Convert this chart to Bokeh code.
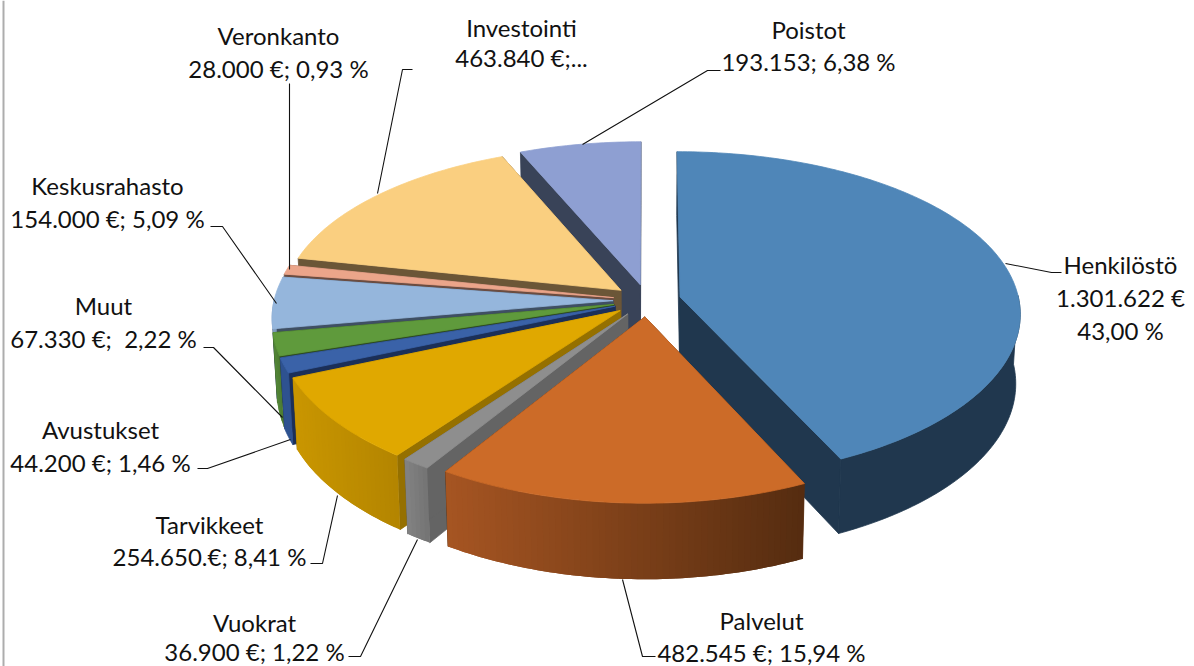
import numpy as np
from bokeh.plotting import figure
from bokeh.models import ColumnDataSource, Range1d, GlobalInlineStyleSheet
from bokeh.core.properties import value
from bokeh.embed import file_html
from bokeh.resources import INLINE

# ---------- data ----------
categories = ["Henkilöstö", "Palvelut", "Vuokrat", "Tarvikkeet", "Avustukset",
              "Muut", "Keskusrahasto", "Veronkanto", "Investointi", "Poistot"]
amounts = [1301622, 482545, 36900, 254650, 44200, 67330, 154000, 28000, 463840, 193153]
value_labels = [["1.301.622 €", "43,00 %"], ["482.545 €; 15,94 %"], ["36.900 €; 1,22 %"],
                ["254.650.€; 8,41 %"], ["44.200 €; 1,46 %"], ["67.330 €;\u00a0 2,22 %"],
                ["154.000 €; 5,09 %"], ["28.000 €; 0,93 %"], ["463.840 €;..."],
                ["193.153; 6,38 %"]]

# ---------- styles ----------
top_colors = ["#4F86B8", "#CC6B28", "#8E8E8E", "#E0A800", "#3A62A8",
              "#5F9A3C", "#95B6DC", "#EBA58A", "#FACF80", "#8E9FD2"]
face_colors = ["#20374E", "#5A2F10", "#646464", "#957000", "#1B2F58",
               "#2F4D1E", "#3F4F63", "#6B4C40", "#6B5637", "#394358"]
wall_from = ["#20374E", "#A65522", "#828282", "#C99600", "#2E5290",
             "#55893A", "#7F9CC0", "#C98C75", "#D0AC6A", "#76859F"]
wall_to = ["#20374E", "#552C10", "#747474", "#B48500", "#2E5290",
           "#4B7A30", "#7F9CC0", "#C98C75", "#D0AC6A", "#76859F"]

# ---------- layout ----------
CX, CY = 646.5, 300.0      # pie centre on the page
R, R_Y = 339.0, 162.0
PERSP_X, PERSP_Y = 0.097, 0.11
DEPTH, SHRINK = 69.0, 0.988
EXPLODE = 0.1
FONT_PX = "24px"

label_layout = {   # centre x, line y's
    "Henkilöstö": (1120, [264, 297, 330]),
    "Palvelut": (761, [620, 652]),
    "Vuokrat": (254, [622, 651]),
    "Tarvikkeet": (209, [524, 556]),
    "Avustukset": (100, [429, 462]),
    "Muut": (103, [305, 338]),
    "Keskusrahasto": (107, [185, 218]),
    "Veronkanto": (278, [35, 68]),
    "Investointi": (521, [27, 57]),
    "Poistot": (808, [29, 61]),
}
leaders = [
    ([1005, 1051, 1061], [263, 272, 272]),
    ([622, 642, 655], [579, 656, 656]),
    ([417, 360, 348], [539, 656, 656]),
    ([337, 322, 310], [495, 563, 563]),
    ([290, 207, 197], [439, 468, 468]),
    ([282, 213, 203], [417, 347, 347]),
    ([276, 222, 210], [303, 226, 226]),
    ([289, 289], [269, 83]),
    ([377, 402, 412], [193, 69, 69]),
    ([582, 707, 720], [144, 70, 70]),
]


def project(u, v, bottom=False):
    sx = 1.0 / (1.0 + PERSP_X * v)
    sy = 1.0 / (1.0 + PERSP_Y * v)
    x = R * u * sx
    y = -R_Y * v * sy
    if bottom:
        return CX + x * SHRINK, CY + y * SHRINK + DEPTH * sy
    return CX + x, CY + y


def mix(a, b, t):
    ca = [int(a[i:i + 2], 16) for i in (1, 3, 5)]
    cb = [int(b[i:i + 2], 16) for i in (1, 3, 5)]
    return "#%02x%02x%02x" % tuple(int(round(p + (q - p) * t)) for p, q in zip(ca, cb))


shares = np.array(amounts, dtype=float) / sum(amounts)
ends = np.cumsum(shares) * 2 * np.pi
starts = ends - shares * 2 * np.pi

polys = {"xs": [], "ys": [], "c": [], "la": []}


def add(xs, ys, c, la=1.0):
    polys["xs"].append(list(map(float, xs)))
    polys["ys"].append(list(map(float, ys)))
    polys["c"].append(c)
    polys["la"].append(la)


# paint from back to front
for i in [0, 9, 8, 7, 6, 5, 4, 3, 2, 1]:
    a0, a1 = starts[i], ends[i]
    mid = (a0 + a1) / 2
    du, dv = EXPLODE * np.sin(mid), EXPLODE * np.cos(mid)
    th = np.linspace(a0, a1, max(6, int((a1 - a0) * 60)))
    u = du + np.sin(th)
    v = dv + np.cos(th)
    tx, ty = project(u, v)
    bx, by = project(u, v, True)
    ax, ay = project(du, dv)
    abx, aby = project(du, dv, True)
    # radial faces
    add([ax, tx[0], bx[0], abx], [ay, ty[0], by[0], aby], face_colors[i])
    add([ax, tx[-1], bx[-1], abx], [ay, ty[-1], by[-1], aby], face_colors[i])
    # outer wall: only where it faces the viewer
    vis = np.where(np.cos(th) < 0.02)[0]
    if len(vis) > 1:
        a, b = vis[0], vis[-1]
        if wall_from[i] == wall_to[i]:
            add([*tx[a:b + 1], *bx[a:b + 1][::-1]], [*ty[a:b + 1], *by[a:b + 1][::-1]],
                wall_from[i], 1.0)
        else:
            lo, hi = min(tx), max(tx)
            for k in range(a, b):
                e = min(k + 2, b)
                t = ((tx[k] + tx[k + 1]) / 2 - lo) / max(hi - lo, 1)
                add([*tx[k:e + 1], *bx[k:e + 1][::-1]], [*ty[k:e + 1], *by[k:e + 1][::-1]],
                    mix(wall_from[i], wall_to[i], t), 0.0)
    # top surface
    add([ax, *tx], [ay, *ty], top_colors[i])

W, H = 1194, 666
p = figure(width=W, height=H, output_backend="svg", toolbar_location=None,
           x_range=Range1d(0, W), y_range=Range1d(H, 0), min_border=0,
           outline_line_color=None, background_fill_color="white", border_fill_color="white")
p.axis.visible = False
p.grid.visible = False
p.stylesheets = [GlobalInlineStyleSheet(css="html,body{margin:0;padding:0;overflow:hidden}")]

# chart-area border on the left
p.segment([3], [0], [3], [H], line_color="#ADADAD", line_width=2)

src = ColumnDataSource(polys)
p.patches("xs", "ys", source=src, fill_color="c", line_color="c", line_alpha="la", line_width=0.8)

for xs, ys in leaders:
    p.line(xs, ys, line_color="#111111", line_width=1.1)

tx_, ty_, tt_ = [], [], []
for name, lines in zip(categories, value_labels):
    cx, ys = label_layout[name]
    for y, t in zip(ys, [name] + lines):
        tx_.append(cx); ty_.append(y); tt_.append(t)
p.text(tx_, ty_, text=tt_, text_font=value("Lato"), text_font_size=FONT_PX,
       text_color="#111111", text_align="center", text_baseline="middle")

open("out.html", "w").write(file_html(p, INLINE))
